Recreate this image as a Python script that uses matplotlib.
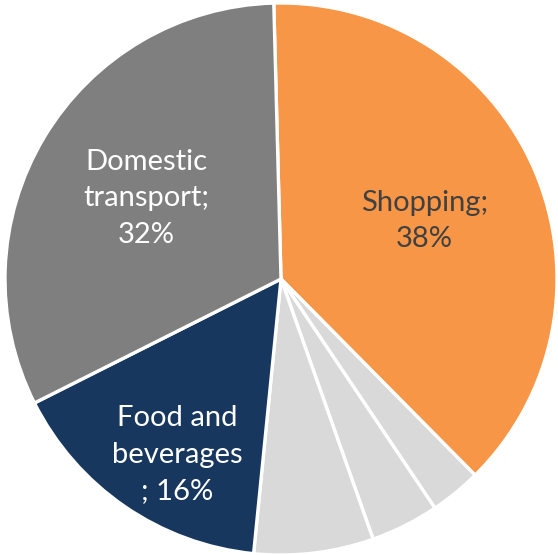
import numpy as np
import matplotlib.pyplot as plt

categories = ["Shopping", "Other 1", "Other 2", "Other 3", "Food and beverages", "Domestic transport"]
shares = [38, 3, 4, 7, 16, 32]
label_texts = ["Shopping;\n38%", "", "", "", "Food and\nbeverages\n; 16%", "Domestic\ntransport;\n32%"]

colors = ["#F79646", "#D9D9D9", "#D9D9D9", "#D9D9D9", "#17375E", "#7F7F7F"]
text_colors = ["#404040", "white", "white", "white", "white", "white"]
label_radius = [0.56, 0, 0, 0, 0.74, 0.57]
label_turn = [-1, 0, 0, 0, 4, 0]   # degrees added to the wedge mid-angle

plt.rcParams['font.family'] = ['Lato', 'DejaVu Sans']

fig = plt.figure(figsize=(5.58, 5.55), dpi=100)
ax = fig.add_axes([0, 0, 1, 1])

wedges, _ = ax.pie(shares, colors=colors, startangle=91.5, counterclock=False,
                   radius=1.0, wedgeprops=dict(edgecolor="white", linewidth=2.4))

for w, txt, r, dt, tc in zip(wedges, label_texts, label_radius, label_turn, text_colors):
    if not txt:
        continue
    mid = np.deg2rad((w.theta1 + w.theta2) / 2 + dt)
    ax.text(r * np.cos(mid), r * np.sin(mid), txt, ha="center", va="center",
            color=tc, fontsize=21, linespacing=1.5)

ax.set_xlim(-281 / 276, 277 / 276)
ax.set_ylim(-276 / 276, 279 / 276)
ax.set_aspect("equal")
ax.axis("off")

fig.savefig("out.png", dpi=100)
